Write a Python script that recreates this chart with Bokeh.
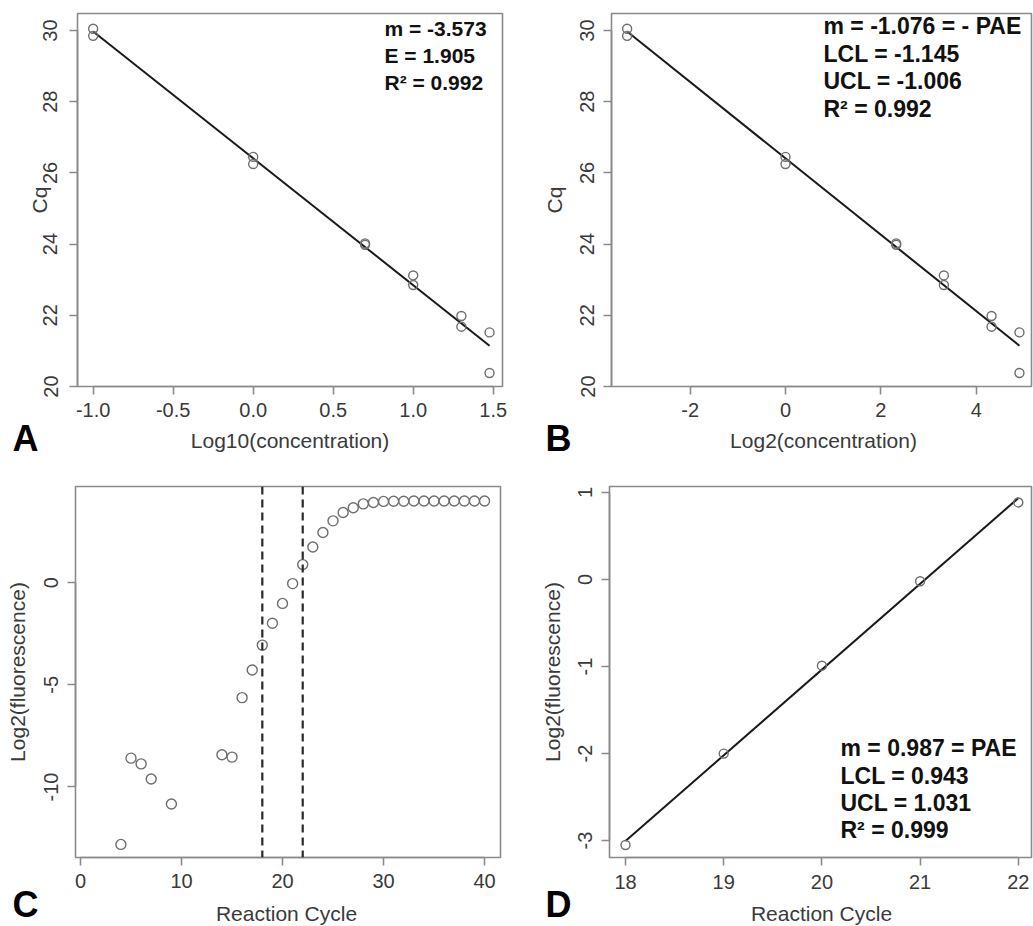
import numpy as np
from bokeh.plotting import figure
from bokeh.models import Range1d, FixedTicker, Label, Span, NumeralTickFormatter
from bokeh.layouts import column, row
from bokeh.embed import file_html
from bokeh.resources import INLINE

# ---------------- data ----------------
# Panels A / B : standard curve (duplicates)
conc_log10 = [-1.0, -1.0, 0.0, 0.0, 0.699, 0.699, 1.0, 1.0, 1.301, 1.301, 1.477, 1.477]
conc_log2 = [-3.322, -3.322, 0.0, 0.0, 2.322, 2.322, 3.322, 3.322, 4.322, 4.322, 4.907, 4.907]
cq = [30.05, 29.85, 26.45, 26.25, 24.02, 23.98, 23.12, 22.85, 21.98, 21.68, 21.52, 20.38]

# Panel C : amplification curve
cycles = [4, 5, 6, 7, 9, 14, 15, 16, 17, 18, 19, 20, 21, 22, 23, 24, 25, 26, 27, 28,
          29, 30, 31, 32, 33, 34, 35, 36, 37, 38, 39, 40]
log2_fluor = [-12.81, -8.59, -8.87, -9.61, -10.83, -8.42, -8.54, -5.63, -4.28, -3.06,
              -1.99, -1.02, -0.05, 0.88, 1.74, 2.45, 3.02, 3.43, 3.66, 3.85,
              3.92, 3.97, 3.98, 3.98, 3.99, 3.99, 3.99, 3.99, 3.99, 3.99, 3.99, 3.99]
window_cycles = [18, 22]

# Panel D : exponential window
d_cycles = [18, 19, 20, 21, 22]
d_log2 = [-3.05, -2.00, -0.99, -0.02, 0.886]

ann_A = ["m = -3.573", "E = 1.905", "R\u00b2 = 0.992"]
ann_B = ["m = -1.076 = - PAE", "LCL = -1.145", "UCL = -1.006", "R\u00b2 = 0.992"]
ann_D = ["m = 0.987 = PAE", "LCL = 0.943", "UCL = 1.031", "R\u00b2 = 0.999"]
panel_letters = ["A", "B", "C", "D"]

xticks_A = [-1.0, -0.5, 0.0, 0.5, 1.0, 1.5]
yticks_AB = [20, 22, 24, 26, 28, 30]
xticks_B = [-2, 0, 2, 4]
xticks_C = [0, 10, 20, 30, 40]
yticks_C = [-10, -5, 0]
xticks_D = [18, 19, 20, 21, 22]
yticks_D = [-3, -2, -1, 0, 1]

xlab_A = "Log10(concentration)"
xlab_B = "Log2(concentration)"
ylab_AB = "Cq"
xlab_CD = "Reaction Cycle"
ylab_CD = "Log2(fluorescence)"

# ---------------- style ----------------
FONT = "Liberation Sans"
FRAME = "#8a8a8a"
TXT = "#3a3a3a"
PT = "#6e6e6e"
BASE_SHIFT = 0.4   # label baseline correction, in font sizes


def make_fig(w, h, xr, yr, ml, mr, mt, mb):
    p = figure(width=w, height=h, x_range=xr, y_range=yr, output_backend="svg",
               toolbar_location=None, min_border_left=ml, min_border_right=mr,
               min_border_top=mt, min_border_bottom=mb)
    p.grid.visible = False
    p.outline_line_color = FRAME
    p.outline_line_width = 1.6
    p.background_fill_color = "white"
    p.border_fill_color = "white"
    for ax in list(p.xaxis) + list(p.yaxis):
        ax.axis_line_color = FRAME
        ax.axis_line_width = 1.6
        ax.major_tick_line_color = FRAME
        ax.major_tick_line_width = 1.6
        ax.major_tick_out = 8
        ax.major_tick_in = 0
        ax.minor_tick_line_color = None
        ax.major_label_text_font = FONT
        ax.major_label_text_font_size = "20px"
        ax.major_label_text_color = TXT
        ax.axis_label_text_font = FONT
        ax.axis_label_text_font_size = "21px"
        ax.axis_label_text_font_style = "normal"
        ax.axis_label_text_color = TXT
        ax.formatter = NumeralTickFormatter(format="0")
    p.yaxis.major_label_orientation = "vertical"
    return p


def make_strip(w, h):
    s = figure(width=w, height=h, x_range=Range1d(0, w), y_range=Range1d(h, 0),
               output_backend="svg", toolbar_location=None,
               x_axis_type=None, y_axis_type=None, min_border=0)
    s.outline_line_color = None
    s.background_fill_color = None
    s.border_fill_color = None
    return s


def to_data(p, fl, ft, fw, fh, px, py):
    xr, yr = p.x_range, p.y_range
    x = xr.start + (px - fl) / fw * (xr.end - xr.start)
    y = yr.end - (py - ft) / fh * (yr.end - yr.start)
    return x, y


def add_text(p, geom, px, py, text, fs, color="#111111"):
    x, y = to_data(p, *geom, px, py - BASE_SHIFT * fs)
    p.add_layout(Label(x=x, y=y, text=text, text_font=FONT, text_font_size=f"{fs}px",
                       text_font_style="bold", text_color=color,
                       text_align="left", text_baseline="alphabetic"))


def strip_text(s, x, y, text, fs, bold, align, color):
    s.add_layout(Label(x=x, y=y - BASE_SHIFT * fs, text=text, text_font=FONT,
                       text_font_size=f"{fs}px",
                       text_font_style="bold" if bold else "normal", text_color=color,
                       text_align=align, text_baseline="alphabetic"))


def fit_line(p, xs, ys):
    xs = np.asarray(xs, float)
    ys = np.asarray(ys, float)
    m, b = np.polyfit(xs, ys, 1)
    x0, x1 = xs.min(), xs.max()
    p.line([x0, x1], [m * x0 + b, m * x1 + b], line_color="#1a1a1a", line_width=2)


# ---------------- panel A ----------------
# figure page x 0..515, y 0..426 ; frame 77..502 x 13..386
gA = (77, 13, 425, 373)
pA = make_fig(515, 426, Range1d(-1.098, 1.558), Range1d(20.0, 30.478), 77, 13, 13, 40)
pA.xaxis.ticker = FixedTicker(ticks=xticks_A)
pA.xaxis.formatter = NumeralTickFormatter(format="0.0")
pA.xaxis.bounds = (min(xticks_A), max(xticks_A))
pA.yaxis.ticker = FixedTicker(ticks=yticks_AB)
pA.yaxis.bounds = (min(yticks_AB), max(yticks_AB))
pA.yaxis.axis_label = ylab_AB
pA.xaxis.major_label_standoff = 8
pA.yaxis.major_label_standoff = 12
pA.yaxis.axis_label_standoff = -10
fit_line(pA, conc_log10, cq)
pA.scatter(conc_log10, cq, size=9, marker="circle", fill_color=None, line_color=PT, line_width=1.4)
for i, t in enumerate(ann_A):
    add_text(pA, gA, 384, 36 + 27.4 * i, t, 21)

# ---------------- panel B ----------------
# figure page x 515..1033 ; frame 611..1031
gB = (611, 13, 420, 373)
pB = make_fig(518, 426, Range1d(-3.65, 5.16), Range1d(20.0, 30.478), 96, 2, 13, 40)
pB.xaxis.ticker = FixedTicker(ticks=xticks_B)
pB.xaxis.bounds = (min(xticks_B), max(xticks_B))
pB.yaxis.ticker = FixedTicker(ticks=yticks_AB)
pB.yaxis.bounds = (min(yticks_AB), max(yticks_AB))
pB.yaxis.axis_label = ylab_AB
pB.xaxis.major_label_standoff = 8
pB.yaxis.major_label_standoff = 9
pB.yaxis.axis_label_standoff = 12
fit_line(pB, conc_log2, cq)
pB.scatter(conc_log2, cq, size=9, marker="circle", fill_color=None, line_color=PT, line_width=1.4)
for i, t in enumerate(ann_B):
    add_text(pB, gB, 823, 35 + 27.4 * i, t, 23)

# transparent strips under the top row (page y 418..460, overlapping 8px upward)
S1 = 418
sA = make_strip(515, 42)
strip_text(sA, 289.5, 448 - S1, xlab_A, 21, False, "center", TXT)
strip_text(sA, 12, 452 - S1, panel_letters[0], 36, True, "left", "#000000")
sB = make_strip(518, 42)
strip_text(sB, 823 - 515, 448 - S1, xlab_B, 21, False, "center", TXT)
strip_text(sB, 545 - 515, 452 - S1, panel_letters[1], 36, True, "left", "#000000")

# ---------------- panel C ----------------
# figure page x 0..515, y 460..896 ; frame 75..500 x 486..858
gC = (75, 486, 425, 372)
pC = make_fig(515, 436, Range1d(-0.495, 41.58), Range1d(-13.45, 4.70), 75, 15, 26, 38)
pC.xaxis.ticker = FixedTicker(ticks=xticks_C)
pC.xaxis.bounds = (min(xticks_C), max(xticks_C))
pC.yaxis.ticker = FixedTicker(ticks=yticks_C)
pC.yaxis.bounds = (min(yticks_C), max(yticks_C))
pC.yaxis.axis_label = ylab_CD
pC.xaxis.major_label_standoff = 8
pC.yaxis.major_label_standoff = 9
pC.yaxis.axis_label_standoff = 13
for c in window_cycles:
    pC.add_layout(Span(location=c, dimension="height", line_color="#2a2a2a",
                       line_width=2.2, line_dash="8 5"))
pC.scatter(cycles, log2_fluor, size=10, marker="circle", fill_color=None, line_color=PT, line_width=1.4)

# ---------------- panel D ----------------
# figure page x 515..1033 ; frame 609..1031 x 484..857
gD = (609, 484, 422, 373)
pD = make_fig(518, 436, Range1d(17.837, 22.134), Range1d(-3.194, 1.069), 94, 2, 24, 39)
pD.xaxis.ticker = FixedTicker(ticks=xticks_D)
pD.xaxis.bounds = (min(xticks_D), max(xticks_D))
pD.yaxis.ticker = FixedTicker(ticks=yticks_D)
pD.yaxis.bounds = (min(yticks_D), max(yticks_D))
pD.yaxis.axis_label = ylab_CD
pD.xaxis.major_label_standoff = 9
pD.yaxis.major_label_standoff = 9
pD.yaxis.axis_label_standoff = 12
fit_line(pD, d_cycles, d_log2)
pD.scatter(d_cycles, d_log2, size=9, marker="circle", fill_color=None, line_color=PT, line_width=1.4)
for i, t in enumerate(ann_D):
    add_text(pD, gD, 840, 756.5 + 27.5 * i, t, 23)

# transparent strips under the bottom row (page y 884..926, overlapping 12px upward)
S2 = 884
sC = make_strip(515, 42)
strip_text(sC, 286, 921 - S2, xlab_CD, 21, False, "center", TXT)
strip_text(sC, 12, 918 - S2, panel_letters[2], 36, True, "left", "#000000")
sD = make_strip(518, 42)
strip_text(sD, 821 - 515, 921 - S2, xlab_CD, 21, False, "center", TXT)
strip_text(sD, 545 - 515, 918 - S2, panel_letters[3], 36, True, "left", "#000000")

layout = column(row(pA, pB),
                row(sA, sB, margin=(-8, 0, 0, 0)),
                row(pC, pD),
                row(sC, sD, margin=(-12, 0, 0, 0)))
open("out.html", "w").write(file_html(layout, INLINE))
